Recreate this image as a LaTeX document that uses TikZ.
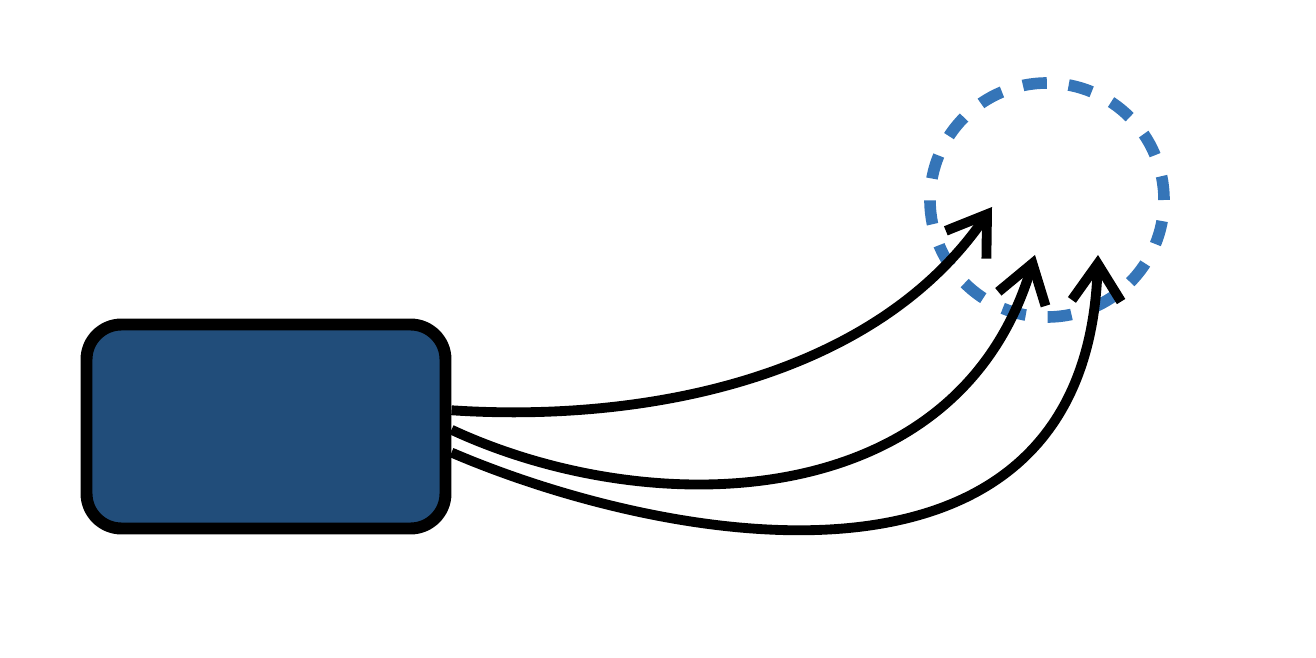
\documentclass[tikz,border=0pt]{standalone}
\usepackage{tikz}
\usetikzlibrary{arrows.meta,positioning}
\definecolor{boxblue}{RGB}{33,77,122}
\definecolor{ringblue}{RGB}{53,117,184}

\begin{document}
\begin{tikzpicture}
  [every node/.style={inner sep=0pt},
   source/.style={rectangle,rounded corners=0.35cm,draw=black,line width=3.4pt,fill=boxblue,minimum width=3.59cm,minimum height=2.04cm},
   target/.style={circle,draw=ringblue,line width=3.3pt,dash pattern=on 0.24cm off 0.22cm,minimum size=2.34cm},
   flow/.style={line width=2.8pt,-{Straight Barb[length=10.5pt,width=14pt]}}]
  \useasboundingbox (0,0) rectangle (13.16,6.58);
  \node[source] (box) at (2.66,2.315) {};
  \node[target] (spot) at (10.47,4.58) {};
  \coordinate (t1) at (9.92,4.51);
  \coordinate (t2) at (10.35,4.03);
  \coordinate (t3) at (10.98,4.03);

  \foreach \from/\to/\ax/\ay/\bx/\by in {5/t1/6.43/2.35/8.74/2.79,-1/t2/6.50/1.36/9.57/1.42,-8/t3/6.67/1.13/10.86/0.36}
    \draw[flow] (box.\from) .. controls (\ax,\ay) and (\bx,\by) .. (\to);
\end{tikzpicture}
\end{document}
